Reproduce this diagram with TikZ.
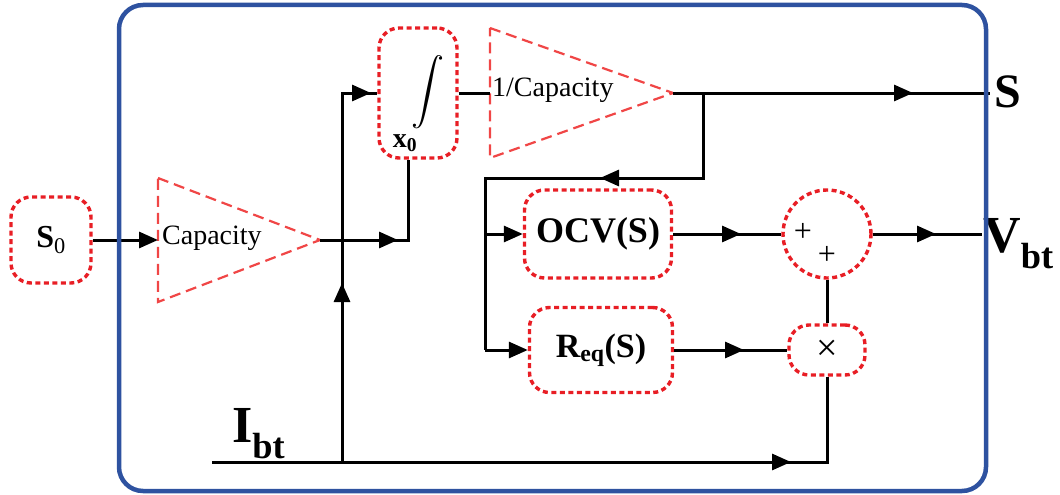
\documentclass[tikz,border=0pt]{standalone}
\usepackage{fontspec}
\usepackage{graphicx}
\setmainfont{Liberation Serif}
\usetikzlibrary{arrows.meta,calc}
\definecolor{frameblue}{RGB}{46,82,160}
\definecolor{dotred}{RGB}{232,30,37}
\definecolor{trired}{RGB}{240,70,70}
\begin{document}
\begin{tikzpicture}[x=1pt,y=-1pt,
  wire/.style={line width=3pt, black},
  tipw/.style={wire,-{Triangle[length=19pt,width=16pt]}},
  blk/.style={draw=dotred, line width=3.4pt, dash pattern=on 5pt off 3.5pt, rounded corners=20pt, inner sep=0pt},
  tri/.style={draw=trired, line width=2.2pt, dash pattern=on 11pt off 6pt},
  lbl/.style={inner sep=0pt},
]
\useasboundingbox (0,0) rectangle (1060,495);

% blocks
\node[blk, minimum width=80pt, minimum height=86pt] (s0) at (51,240) {\fontsize{32}{34}\selectfont\textbf{S}\textsubscript{0}};
\coordinate (t1a) at (158,178);
\coordinate (t1b) at (158,302);
\coordinate (t1mid) at (158,240);
\coordinate (t1apex) at (320,240);
\draw[tri] (t1a) -- (t1apex) -- (t1b) -- cycle;
\node[lbl, anchor=west] (t1lab) at (162,238) {\fontsize{28}{30}\selectfont Capacity};

\node[blk, minimum width=78pt, minimum height=130pt] (int) at (418,93) {};
\node[lbl] (intsym) at (428,92) {\scalebox{3.3}{$\displaystyle\int$}};
\node[lbl] (x0) at (405,143) {\fontsize{28}{30}\selectfont\textbf{x}\textsubscript{\textbf{0}}};

\coordinate (t2a) at (490,28);
\coordinate (t2b) at (490,158);
\coordinate (t2mid) at (490,93);
\coordinate (t2apex) at (673,93);
\draw[tri] (t2a) -- (t2apex) -- (t2b) -- cycle;
\node[lbl, anchor=west] (t2lab) at (492,90) {\fontsize{28}{30}\selectfont 1/Capacity};

\node[blk, minimum width=147pt, minimum height=88pt] (ocv) at (598,234) {\fontsize{36}{40}\selectfont\bfseries OCV(S)};
\node[blk, minimum width=143pt, minimum height=85pt] (req) at (601,350) {\fontsize{34}{38}\selectfont\bfseries R\textsubscript{eq}(S)};
\node[blk, circle, minimum size=88pt] (sum) at (827,234) {};
\node[lbl] (p1) at (803,232) {\fontsize{32}{34}\selectfont +};
\node[lbl] (p2) at (827,255) {\fontsize{32}{34}\selectfont +};
\node[blk, minimum width=76pt, minimum height=50pt] (mul) at (827,350) {\fontsize{38}{40}\selectfont ×};

% labels outside
\node[lbl] (Sout) at (1008,92) {\fontsize{48}{50}\selectfont\bfseries S};
\node[lbl, anchor=base west] (Vbt) at (983,252) {\fontsize{52}{54}\selectfont\bfseries V\textsubscript{bt}};
\node[lbl, anchor=base west] (Ibt) at (232,442) {\fontsize{52}{54}\selectfont\bfseries I\textsubscript{bt}};

% junctions
\coordinate (jB) at (408,240);
\coordinate (jTop) at (342,93);
\coordinate (jBot) at (342,462);
\coordinate (ibtStart) at (212,462);
\coordinate (ibtEnd) at (827,462);
\coordinate (br1) at (703,93);
\coordinate (br2) at (703,178);
\coordinate (br3) at (485,178);
\coordinate (br4) at (485,350);
\coordinate (sEnd) at (990,93);
\coordinate (vEnd) at (982,234);
% arrow tip points
\coordinate (tipCap) at (398,240);
\coordinate (tipUp) at (342,283);
\coordinate (tipTop) at (371,93);
\coordinate (tipS) at (913,93);
\coordinate (tipBr) at (600,178);
\coordinate (tipO) at (741,234);
\coordinate (tipV) at (936,234);
\coordinate (tipR) at (744,350);
\coordinate (tipI) at (791,462);

% wires
\draw[tipw] (s0.east) -- (t1mid);
\draw[wire] (t1apex) -- (jB) -- (jB |- int.south);
\draw[tipw] (t1apex) -- (tipCap);
\draw[wire] (ibtStart) -- (ibtEnd) -- (ibtEnd |- mul.south);
\draw[tipw] (ibtStart) -- (tipI);
\draw[wire] (jBot) -- (jTop) -- (int.west);
\draw[tipw] (jBot) -- (tipUp);
\draw[tipw] (jTop) -- (tipTop);
\draw[wire] (int.east) -- (t2mid);
\draw[wire] (t2apex) -- (sEnd);
\draw[tipw] (t2apex) -- (tipS);
\draw[wire] (br1) -- (br2) -- (br3) -- (br4);
\draw[tipw] (br2) -- (tipBr);
\draw[tipw] (br3 |- ocv.west) -- (ocv.west);
\draw[tipw] (br4) -- (req.west);
\draw[wire] (ocv.east) -- (sum.west);
\draw[tipw] (ocv.east) -- (tipO);
\draw[wire] (sum.east) -- (vEnd);
\draw[tipw] (sum.east) -- (tipV);
\draw[wire] (req.east) -- (mul.west);
\draw[tipw] (req.east) -- (tipR);
\draw[wire] (mul.north) -- (sum.south);

% frame
\draw[frameblue, line width=4.5pt, rounded corners=24pt] (119,5) rectangle (986,491);
\end{tikzpicture}
\end{document}
